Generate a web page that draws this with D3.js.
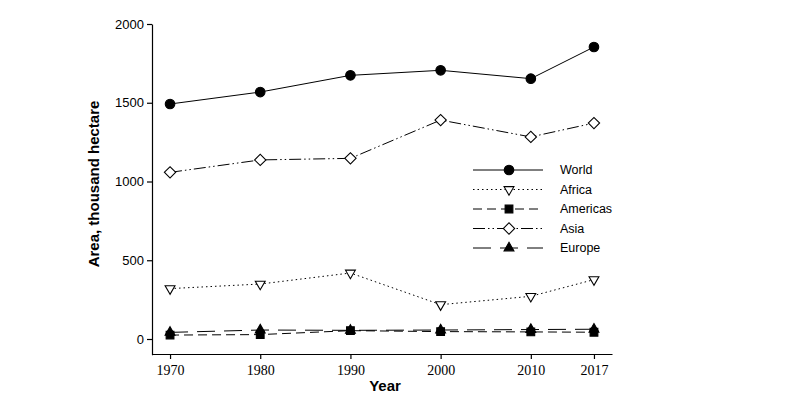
<!DOCTYPE html>
<html><head><meta charset="utf-8">
<script src="https://cdn.jsdelivr.net/npm/d3@7"></script>
<style>body{margin:0;background:#fff}</style>
</head><body>
<svg id="c" width="800" height="408"></svg>
<script>
const years = [1970, 1980, 1990, 2000, 2010, 2017];
const world = [1492, 1568, 1674, 1706, 1653, 1854];
const africa = [320, 349, 419, 218, 271, 377];
const americas = [25, 28, 53, 47, 45, 43];
const asia = [1058, 1137, 1147, 1390, 1283, 1371];
const europe = [42, 57, 55, 57, 60, 62];
const yTicks = [0, 500, 1000, 1500, 2000];

const series = [
  {name: "World", values: world, dash: null, sym: "circle", fill: "#000"},
  {name: "Africa", values: africa, dash: "1.5,3", sym: "down", fill: "#fff"},
  {name: "Americas", values: americas, dash: "9,5", sym: "square", fill: "#000"},
  {name: "Asia", values: asia, dash: "12,3,1.5,3,1.5,3", sym: "diamond", fill: "#fff"},
  {name: "Europe", values: europe, dash: "18,9", sym: "up", fill: "#000"}
];

const symDef = {
  circle: {p: d3.symbol(d3.symbolCircle, 72)(), r: 0},
  down: {p: d3.symbol(d3.symbolTriangle, 42)(), r: 180},
  square: {p: d3.symbol(d3.symbolSquare, 60)(), r: 0},
  diamond: {p: d3.symbol(d3.symbolSquare, 64)(), r: 45},
  up: {p: d3.symbol(d3.symbolTriangle, 42)(), r: 0}
};

const svg = d3.select("#c");
const x = d3.scaleLinear().domain([1968, 2019]).range([152, 612]);
const y = d3.scaleLinear().domain([-100, 2000]).range([354.75, 24]);

// axes
const xa = svg.append("g").attr("transform", "translate(0,354)")
  .call(d3.axisBottom(x).tickValues(years).tickFormat(d3.format("d")).tickSize(5).tickSizeOuter(0));
xa.selectAll("text").attr("font-family", "Liberation Serif, Times New Roman, serif").attr("font-size", 14).attr("fill", "#000").attr("dy", "0.95em");
const ya = svg.append("g").attr("transform", "translate(152,0)")
  .call(d3.axisLeft(y).tickValues(yTicks).tickFormat(d3.format("d")).tickSize(5).tickSizeOuter(0));
ya.selectAll("text").attr("font-family", "Liberation Sans, Arial, sans-serif").attr("font-size", 13).attr("fill", "#000");
svg.selectAll(".domain, .tick line").attr("stroke", "#000").attr("stroke-width", 1.2);

svg.append("text").attr("x", 385).attr("y", 391).attr("text-anchor", "middle")
  .attr("font-family", "Liberation Sans, Arial, sans-serif").attr("font-weight", "bold").attr("font-size", 15).text("Year");
svg.append("text").attr("transform", "translate(99,184) rotate(-90)").attr("text-anchor", "middle")
  .attr("font-family", "Liberation Sans, Arial, sans-serif").attr("font-weight", "bold").attr("font-size", 15).text("Area, thousand hectare");

const line = d3.line().x((d, i) => x(years[i])).y(d => y(d));

series.slice().reverse().forEach(s => {
  svg.append("path").attr("d", line(s.values)).attr("fill", "none").attr("stroke", "#000")
    .attr("stroke-width", 1).attr("stroke-dasharray", s.dash);
});
series.slice().reverse().forEach(s => {
  const sd = symDef[s.sym];
  svg.append("g").selectAll("path").data(s.values).join("path")
    .attr("d", sd.p)
    .attr("transform", (d, i) => `translate(${x(years[i])},${y(d)}) rotate(${sd.r})`)
    .attr("fill", s.fill).attr("stroke", "#000").attr("stroke-width", 1.1);
});

// legend
const lg = svg.append("g");
series.forEach((s, i) => {
  const ly = 170 + i * 19.5;
  const sd = symDef[s.sym];
  lg.append("line").attr("x1", 473).attr("x2", 543).attr("y1", ly).attr("y2", ly)
    .attr("stroke", "#000").attr("stroke-width", 1).attr("stroke-dasharray", s.dash);
  lg.append("path").attr("d", sd.p)
    .attr("transform", `translate(509,${ly}) rotate(${sd.r})`)
    .attr("fill", s.fill).attr("stroke", "#000").attr("stroke-width", 1.1);
  lg.append("text").attr("x", 560).attr("y", ly).attr("dy", "0.35em")
    .attr("font-family", "Liberation Sans, Arial, sans-serif").attr("font-size", 12.5).text(s.name);
});
</script>
</body></html>
